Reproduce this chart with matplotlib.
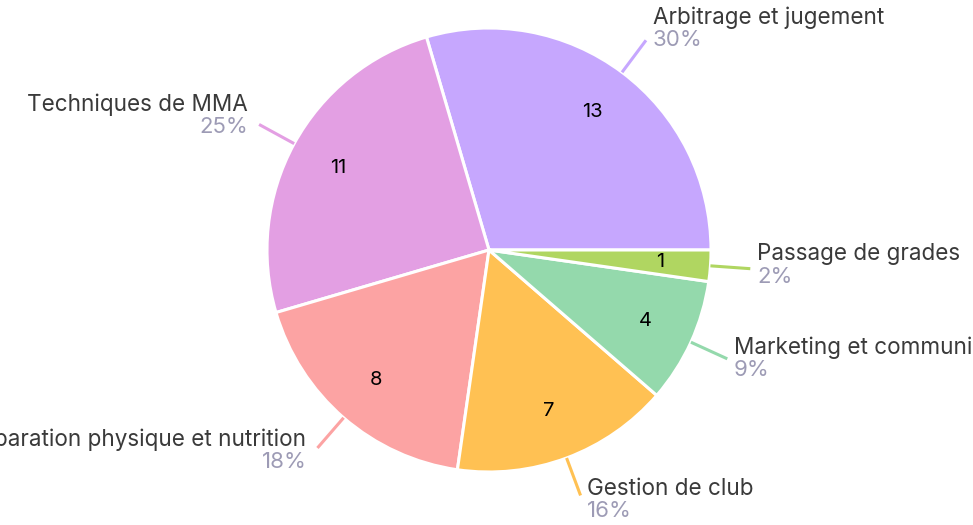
import numpy as np
import matplotlib.pyplot as plt

plt.rcParams['font.family'] = ['Inter', 'DejaVu Sans']

# data
categories = ['Arbitrage et jugement', 'Techniques de MMA',
              'Préparation physique et nutrition', 'Gestion de club',
              'Marketing et communication', 'Passage de grades']
counts = [13, 11, 8, 7, 4, 1]
colors = ['#c6a7fe', '#e39fe3', '#fca3a3', '#ffc153', '#94d9ac', '#b0d661']

fig = plt.figure(figsize=(9.73, 5.25), dpi=100)
ax = fig.add_axes([0, 0, 1, 1])

# 1 unit = 222 px, center at pixel (489, 250)
R = 222.0

wedges, _ = ax.pie(counts, colors=colors, startangle=0, counterclock=True,
                   radius=1.0, center=(0, 0), frame=True,
                   wedgeprops=dict(edgecolor='white', linewidth=2.2))
ax.set_xlim(-489 / R, (973 - 489) / R)
ax.set_ylim(-(525 - 250) / R, 250 / R)
ax.axis('off')

total = sum(counts)
for w, name, n, col in zip(wedges, categories, counts, colors):
    mid = np.deg2rad((w.theta1 + w.theta2) / 2)
    c, s = np.cos(mid), np.sin(mid)
    # value inside
    ax.text(0.775 * c, 0.775 * s, str(n), ha='center', va='center',
            fontsize=14.5, color='black')
    # leader line
    ax.plot([1.0 * c, 1.18 * c], [1.0 * s, 1.18 * s], color=col,
            lw=2.2, solid_capstyle='butt')
    ex, ey = 1.18 * c, 1.18 * s
    if c >= 0:
        tx, ha = ex + 0.03, 'left'
    else:
        tx, ha = ex - 0.05, 'right'
    sep = ey + 0.040 + 0.041 * s
    pct = '{:.0f}%'.format(100 * n / total)
    ax.text(tx, sep, name, ha=ha, va='baseline', fontsize=16.2,
            color='#3a3a3a')
    ax.text(tx, sep - 0.028, pct, ha=ha, va='top', fontsize=16,
            color='#9d9bb5')

plt.savefig('out.png', dpi=100)
